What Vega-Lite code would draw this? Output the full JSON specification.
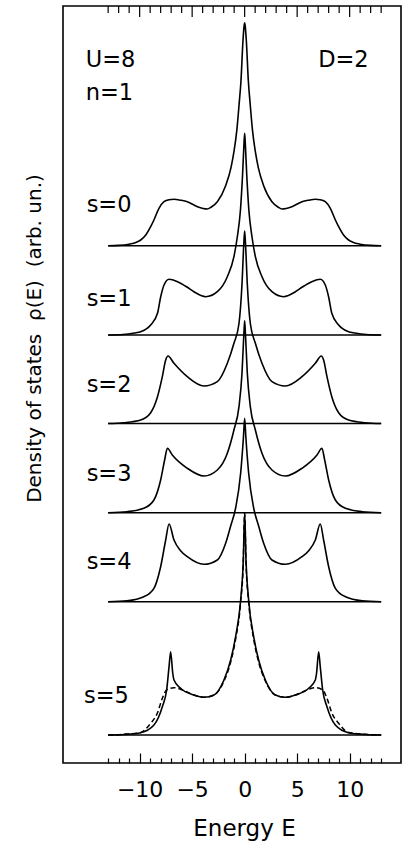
{
  "$schema": "https://vega.github.io/schema/vega-lite/v6.json",
  "width": 338,
  "height": 757,
  "autosize": {"type": "none"},
  "padding": {"left": 63, "top": 6, "right": 1, "bottom": 78},
  "background": "white",
  "config": {
    "view": {"stroke": "black", "strokeWidth": 1.6},
    "axis": {"grid": false, "domain": false, "labelFont": "DejaVu Sans", "titleFont": "DejaVu Sans", "labelColor": "black", "titleColor": "black", "tickColor": "black", "titleFontWeight": "normal"}
  },
  "resolve": {"axis": {"x": "independent"}},
  "datasets": {
    "base": [
      {"s": "s0", "E": -13, "E2": 13, "y": 517.3},
      {"s": "s1", "E": -13, "E2": 13, "y": 428},
      {"s": "s2", "E": -13, "E2": 13, "y": 339.5},
      {"s": "s3", "E": -13, "E2": 13, "y": 250.3},
      {"s": "s4", "E": -13, "E2": 13, "y": 161.3},
      {"s": "s5", "E": -13, "E2": 13, "y": 28}
    ],
    "topticks": [
      {"E": -13, "major": 0}, {"E": -12, "major": 0}, {"E": -11, "major": 0}, {"E": -10, "major": 1}, {"E": -9, "major": 0}, {"E": -8, "major": 0}, {"E": -7, "major": 0}, {"E": -6, "major": 0}, {"E": -5, "major": 1}, {"E": -4, "major": 0}, {"E": -3, "major": 0}, {"E": -2, "major": 0}, {"E": -1, "major": 0}, {"E": 0, "major": 1}, {"E": 1, "major": 0}, {"E": 2, "major": 0}, {"E": 3, "major": 0}, {"E": 4, "major": 0}, {"E": 5, "major": 1}, {"E": 6, "major": 0}, {"E": 7, "major": 0}, {"E": 8, "major": 0}, {"E": 9, "major": 0}, {"E": 10, "major": 1}, {"E": 11, "major": 0}, {"E": 12, "major": 0}, {"E": 13, "major": 0}
    ],
    "curves": [
      {"s":"s0","E":-13,"y":517.3},{"s":"s0","E":-12,"y":517.6},{"s":"s0","E":-11,"y":518.8},{"s":"s0","E":-10.3,"y":520.8},{"s":"s0","E":-9.9,"y":523},{"s":"s0","E":-9.4,"y":528.3},{"s":"s0","E":-8.95,"y":536.3},{"s":"s0","E":-8.64,"y":543},{"s":"s0","E":-8.16,"y":554.7},{"s":"s0","E":-7.68,"y":561.3},{"s":"s0","E":-7.2,"y":563.3},{"s":"s0","E":-6.73,"y":563.7},{"s":"s0","E":-6.1,"y":562.8},{"s":"s0","E":-5.46,"y":561.3},{"s":"s0","E":-4.5,"y":556.3},{"s":"s0","E":-3.55,"y":554},{"s":"s0","E":-3.2,"y":555.8},{"s":"s0","E":-2.6,"y":561.3},{"s":"s0","E":-1.81,"y":577.3},{"s":"s0","E":-1.3,"y":595.3},{"s":"s0","E":-1.02,"y":611.3},{"s":"s0","E":-0.75,"y":632.3},{"s":"s0","E":-0.54,"y":657.3},{"s":"s0","E":-0.35,"y":682.3},{"s":"s0","E":-0.16,"y":722.3},{"s":"s0","E":-0.05,"y":737.3},{"s":"s0","E":0,"y":740.3},
      {"s":"s0","E":0.05,"y":737.3},{"s":"s0","E":0.16,"y":722.3},{"s":"s0","E":0.35,"y":682.3},{"s":"s0","E":0.54,"y":657.3},{"s":"s0","E":0.75,"y":632.3},{"s":"s0","E":1.02,"y":611.3},{"s":"s0","E":1.3,"y":595.3},{"s":"s0","E":1.81,"y":577.3},{"s":"s0","E":2.6,"y":561.3},{"s":"s0","E":3.2,"y":555.8},{"s":"s0","E":3.55,"y":554},{"s":"s0","E":4.5,"y":556.3},{"s":"s0","E":5.46,"y":561.3},{"s":"s0","E":6.1,"y":562.8},{"s":"s0","E":6.73,"y":563.7},{"s":"s0","E":7.2,"y":563.3},{"s":"s0","E":7.68,"y":561.3},{"s":"s0","E":8.16,"y":554.7},{"s":"s0","E":8.64,"y":543},{"s":"s0","E":8.95,"y":536.3},{"s":"s0","E":9.4,"y":528.3},{"s":"s0","E":9.9,"y":523},{"s":"s0","E":10.3,"y":520.8},{"s":"s0","E":11,"y":518.8},{"s":"s0","E":12,"y":517.6},{"s":"s0","E":13,"y":517.3},

      {"s":"s1","E":-13,"y":428},{"s":"s1","E":-11.6,"y":428.5},{"s":"s1","E":-10.5,"y":430},{"s":"s1","E":-9.9,"y":431.3},{"s":"s1","E":-8.95,"y":438},{"s":"s1","E":-8.3,"y":449.7},{"s":"s1","E":-8.0,"y":466},{"s":"s1","E":-7.68,"y":478},{"s":"s1","E":-7.2,"y":483.7},{"s":"s1","E":-6.4,"y":481.3},{"s":"s1","E":-5.5,"y":476},{"s":"s1","E":-4.83,"y":471.3},{"s":"s1","E":-3.71,"y":466.3},{"s":"s1","E":-2.6,"y":471.3},{"s":"s1","E":-1.65,"y":486.3},{"s":"s1","E":-1.02,"y":506.3},{"s":"s1","E":-0.7,"y":526},{"s":"s1","E":-0.4,"y":553},{"s":"s1","E":-0.2,"y":588},{"s":"s1","E":-0.06,"y":620},{"s":"s1","E":0,"y":629.7},
      {"s":"s1","E":0.06,"y":620},{"s":"s1","E":0.2,"y":588},{"s":"s1","E":0.4,"y":553},{"s":"s1","E":0.7,"y":526},{"s":"s1","E":1.02,"y":506.3},{"s":"s1","E":1.65,"y":486.3},{"s":"s1","E":2.6,"y":471.3},{"s":"s1","E":3.71,"y":466.3},{"s":"s1","E":4.83,"y":471.3},{"s":"s1","E":5.5,"y":476},{"s":"s1","E":6.4,"y":481.3},{"s":"s1","E":7.2,"y":483.7},{"s":"s1","E":7.68,"y":478},{"s":"s1","E":8.0,"y":466},{"s":"s1","E":8.3,"y":449.7},{"s":"s1","E":8.95,"y":438},{"s":"s1","E":9.9,"y":431.3},{"s":"s1","E":10.5,"y":430},{"s":"s1","E":11.6,"y":428.5},{"s":"s1","E":13,"y":428},

      {"s":"s2","E":-13,"y":339.5},{"s":"s2","E":-11.5,"y":340.3},{"s":"s2","E":-9.9,"y":343},{"s":"s2","E":-8.95,"y":350.3},{"s":"s2","E":-8.3,"y":366.3},{"s":"s2","E":-7.84,"y":386.3},{"s":"s2","E":-7.52,"y":403},{"s":"s2","E":-7.3,"y":407},{"s":"s2","E":-6.73,"y":399.7},{"s":"s2","E":-5.46,"y":386.3},{"s":"s2","E":-3.87,"y":377},{"s":"s2","E":-2.6,"y":381.3},{"s":"s2","E":-1.65,"y":399.7},{"s":"s2","E":-1.02,"y":419.7},{"s":"s2","E":-0.54,"y":439.5},{"s":"s2","E":-0.25,"y":479.5},{"s":"s2","E":-0.08,"y":519.5},{"s":"s2","E":0,"y":532},
      {"s":"s2","E":0.08,"y":519.5},{"s":"s2","E":0.25,"y":479.5},{"s":"s2","E":0.54,"y":439.5},{"s":"s2","E":1.02,"y":419.7},{"s":"s2","E":1.65,"y":399.7},{"s":"s2","E":2.6,"y":381.3},{"s":"s2","E":3.87,"y":377},{"s":"s2","E":5.46,"y":386.3},{"s":"s2","E":6.73,"y":399.7},{"s":"s2","E":7.3,"y":407},{"s":"s2","E":7.52,"y":403},{"s":"s2","E":7.84,"y":386.3},{"s":"s2","E":8.3,"y":366.3},{"s":"s2","E":8.95,"y":350.3},{"s":"s2","E":9.9,"y":343},{"s":"s2","E":11.5,"y":340.3},{"s":"s2","E":13,"y":339.5},

      {"s":"s3","E":-13,"y":250.3},{"s":"s3","E":-11.2,"y":251.3},{"s":"s3","E":-9.6,"y":254.7},{"s":"s3","E":-8.64,"y":263},{"s":"s3","E":-8.0,"y":283},{"s":"s3","E":-7.62,"y":303},{"s":"s3","E":-7.36,"y":314.7},{"s":"s3","E":-6.89,"y":308},{"s":"s3","E":-5.46,"y":294.7},{"s":"s3","E":-3.87,"y":287},{"s":"s3","E":-2.6,"y":293},{"s":"s3","E":-1.65,"y":309.7},{"s":"s3","E":-1.02,"y":333},{"s":"s3","E":-0.54,"y":356.3},{"s":"s3","E":-0.25,"y":390.3},{"s":"s3","E":-0.08,"y":428.3},{"s":"s3","E":0,"y":442.3},
      {"s":"s3","E":0.08,"y":428.3},{"s":"s3","E":0.25,"y":390.3},{"s":"s3","E":0.54,"y":356.3},{"s":"s3","E":1.02,"y":333},{"s":"s3","E":1.65,"y":309.7},{"s":"s3","E":2.6,"y":293},{"s":"s3","E":3.87,"y":287},{"s":"s3","E":5.46,"y":294.7},{"s":"s3","E":6.89,"y":308},{"s":"s3","E":7.36,"y":314.7},{"s":"s3","E":7.62,"y":303},{"s":"s3","E":8.0,"y":283},{"s":"s3","E":8.64,"y":263},{"s":"s3","E":9.6,"y":254.7},{"s":"s3","E":11.2,"y":251.3},{"s":"s3","E":13,"y":250.3},

      {"s":"s4","E":-13,"y":161.3},{"s":"s4","E":-11.2,"y":162.3},{"s":"s4","E":-9.6,"y":166.3},{"s":"s4","E":-8.64,"y":174.7},{"s":"s4","E":-8.0,"y":196.3},{"s":"s4","E":-7.52,"y":223},{"s":"s4","E":-7.2,"y":239},{"s":"s4","E":-6.73,"y":223},{"s":"s4","E":-6.1,"y":212.3},{"s":"s4","E":-5.46,"y":206.3},{"s":"s4","E":-3.87,"y":198.7},{"s":"s4","E":-2.6,"y":203},{"s":"s4","E":-1.81,"y":219.7},{"s":"s4","E":-1.33,"y":237},{"s":"s4","E":-0.86,"y":255},{"s":"s4","E":-0.38,"y":290},{"s":"s4","E":-0.12,"y":325},{"s":"s4","E":0,"y":344.7},
      {"s":"s4","E":0.12,"y":325},{"s":"s4","E":0.38,"y":290},{"s":"s4","E":0.86,"y":255},{"s":"s4","E":1.33,"y":237},{"s":"s4","E":1.81,"y":219.7},{"s":"s4","E":2.6,"y":203},{"s":"s4","E":3.87,"y":198.7},{"s":"s4","E":5.46,"y":206.3},{"s":"s4","E":6.1,"y":212.3},{"s":"s4","E":6.73,"y":223},{"s":"s4","E":7.2,"y":239},{"s":"s4","E":7.52,"y":223},{"s":"s4","E":8.0,"y":196.3},{"s":"s4","E":8.64,"y":174.7},{"s":"s4","E":9.6,"y":166.3},{"s":"s4","E":11.2,"y":162.3},{"s":"s4","E":13,"y":161.3},

      {"s":"s5","E":-13,"y":28},{"s":"s5","E":-11.5,"y":28.5},{"s":"s5","E":-9.9,"y":30.3},{"s":"s5","E":-8.64,"y":38},{"s":"s5","E":-7.84,"y":56.3},{"s":"s5","E":-7.43,"y":73},{"s":"s5","E":-7.2,"y":96.3},{"s":"s5","E":-7.05,"y":111.3},{"s":"s5","E":-6.85,"y":90},{"s":"s5","E":-6.73,"y":83},{"s":"s5","E":-6.1,"y":74.7},{"s":"s5","E":-4.83,"y":68},{"s":"s5","E":-3.87,"y":65.7},{"s":"s5","E":-2.92,"y":68},{"s":"s5","E":-1.97,"y":83},{"s":"s5","E":-1.33,"y":103},{"s":"s5","E":-0.86,"y":126.3},{"s":"s5","E":-0.38,"y":163},{"s":"s5","E":-0.13,"y":203},{"s":"s5","E":0,"y":250},
      {"s":"s5","E":0.13,"y":203},{"s":"s5","E":0.38,"y":163},{"s":"s5","E":0.86,"y":126.3},{"s":"s5","E":1.33,"y":103},{"s":"s5","E":1.97,"y":83},{"s":"s5","E":2.92,"y":68},{"s":"s5","E":3.87,"y":65.7},{"s":"s5","E":4.83,"y":68},{"s":"s5","E":6.1,"y":74.7},{"s":"s5","E":6.73,"y":83},{"s":"s5","E":6.85,"y":90},{"s":"s5","E":7.05,"y":111.3},{"s":"s5","E":7.2,"y":96.3},{"s":"s5","E":7.43,"y":73},{"s":"s5","E":7.84,"y":56.3},{"s":"s5","E":8.64,"y":38},{"s":"s5","E":9.9,"y":30.3},{"s":"s5","E":11.5,"y":28.5},{"s":"s5","E":13,"y":28}
    ],
    "dashed": [
      {"s":"s5d","E":-13,"y":28},{"s":"s5d","E":-11.5,"y":28.7},{"s":"s5d","E":-9.9,"y":30.5},{"s":"s5d","E":-8.95,"y":39.7},{"s":"s5d","E":-8.32,"y":49.7},{"s":"s5d","E":-7.84,"y":64.7},{"s":"s5d","E":-7.43,"y":73},{"s":"s5d","E":-6.73,"y":75.3},{"s":"s5d","E":-6.1,"y":73.7},{"s":"s5d","E":-4.83,"y":68},{"s":"s5d","E":-3.87,"y":65.7},{"s":"s5d","E":-2.92,"y":68},{"s":"s5d","E":-1.97,"y":82},{"s":"s5d","E":-1.33,"y":101},{"s":"s5d","E":-0.86,"y":124},{"s":"s5d","E":-0.38,"y":161},{"s":"s5d","E":-0.13,"y":200},{"s":"s5d","E":0,"y":249.7},
      {"s":"s5d","E":0.13,"y":200},{"s":"s5d","E":0.38,"y":161},{"s":"s5d","E":0.86,"y":124},{"s":"s5d","E":1.33,"y":101},{"s":"s5d","E":1.97,"y":82},{"s":"s5d","E":2.92,"y":68},{"s":"s5d","E":3.87,"y":65.7},{"s":"s5d","E":4.83,"y":68},{"s":"s5d","E":6.1,"y":73.7},{"s":"s5d","E":6.73,"y":75.3},{"s":"s5d","E":7.43,"y":73},{"s":"s5d","E":7.84,"y":64.7},{"s":"s5d","E":8.32,"y":49.7},{"s":"s5d","E":8.95,"y":39.7},{"s":"s5d","E":9.9,"y":30.5},{"s":"s5d","E":11.5,"y":28.7},{"s":"s5d","E":13,"y":28}
    ],
    "labels": [
      {"t": "U=8", "E": -15.14, "y": 696},
      {"t": "n=1", "E": -15.14, "y": 663},
      {"t": "D=2", "E": 7.0, "y": 696},
      {"t": "s=0", "E": -15.05, "y": 551},
      {"t": "s=1", "E": -15.05, "y": 457},
      {"t": "s=2", "E": -15.05, "y": 371.3},
      {"t": "s=3", "E": -15.05, "y": 282},
      {"t": "s=4", "E": -15.05, "y": 194},
      {"t": "s=5", "E": -15.3, "y": 60}
    ]
  },
  "layer": [
    {
      "data": {"name": "base"},
      "mark": {"type": "rule", "color": "black", "strokeWidth": 1.5},
      "encoding": {
        "x": {"field": "E", "type": "quantitative", "scale": {"domain": [-17.3, 14.89], "nice": false, "zero": false},
              "axis": {"orient": "bottom", "values": [-13,-12,-11,-10,-9,-8,-7,-6,-5,-4,-3,-2,-1,0,1,2,3,4,5,6,7,8,9,10,11,12,13], "labels": true, "labelExpr": "''", "title": null, "tickWidth": 1.2,
                       "tickSize": {"condition": {"test": "datum.value % 5 === 0", "value": -10}, "value": -5}}},
        "x2": {"field": "E2"},
        "y": {"field": "y", "type": "quantitative", "scale": {"domain": [0, 757], "nice": false, "zero": false},
              "axis": {"ticks": false, "labels": false, "domain": false, "title": "Density of states\u00a0\u00a0ρ(E)\u00a0\u00a0(arb. un.)", "titleFontSize": 20, "titleAngle": 270, "titleX": -29, "titleY": 332, "titleAlign": "center", "titleBaseline": "middle"}}
      }
    },
    {
      "data": {"name": "topticks"},
      "transform": [{"filter": "datum.major == 0"}],
      "mark": {"type": "rule", "color": "black", "strokeWidth": 1.2},
      "encoding": {
        "x": {"field": "E", "type": "quantitative", "axis": null},
        "y": {"datum": 757, "type": "quantitative"},
        "y2": {"datum": 750}
      }
    },
    {
      "data": {"name": "topticks"},
      "transform": [{"filter": "datum.major == 1"}],
      "mark": {"type": "rule", "color": "black", "strokeWidth": 1.2},
      "encoding": {
        "x": {"field": "E", "type": "quantitative", "axis": null},
        "y": {"datum": 757, "type": "quantitative"},
        "y2": {"datum": 746}
      }
    },
    {
      "data": {"name": "curves"},
      "mark": {"type": "line", "color": "black", "strokeWidth": 1.6, "interpolate": "monotone"},
      "encoding": {
        "x": {"field": "E", "type": "quantitative", "axis": null},
        "y": {"field": "y", "type": "quantitative",
              "axis": {"ticks": false, "labels": false, "domain": false, "title": "Density of states\u00a0\u00a0ρ(E)\u00a0\u00a0(arb. un.)", "titleFontSize": 20, "titleAngle": 270, "titleX": -29, "titleY": 332, "titleAlign": "center", "titleBaseline": "middle"}},
        "detail": {"field": "s", "type": "nominal"}
      }
    },
    {
      "data": {"name": "dashed"},
      "mark": {"type": "line", "color": "black", "strokeWidth": 1.5, "strokeDash": [5, 3], "interpolate": "monotone"},
      "encoding": {
        "x": {"field": "E", "type": "quantitative", "axis": null},
        "y": {"field": "y", "type": "quantitative",
              "axis": {"ticks": false, "labels": false, "domain": false, "title": "Density of states\u00a0\u00a0ρ(E)\u00a0\u00a0(arb. un.)", "titleFontSize": 20, "titleAngle": 270, "titleX": -29, "titleY": 332, "titleAlign": "center", "titleBaseline": "middle"}}
      }
    },
    {
      "data": {"name": "labels"},
      "mark": {"type": "text", "font": "DejaVu Sans", "fontSize": 22.5, "align": "left", "baseline": "alphabetic", "color": "black"},
      "encoding": {
        "x": {"field": "E", "type": "quantitative",
              "axis": {"orient": "bottom", "values": [-10, -5, 0, 5, 10], "ticks": false, "tickSize": 0, "labels": true, "labelFontSize": 22, "labelPadding": 16,
                       "title": "Energy E", "titleFontSize": 23, "titleX": 181, "titleY": 72, "titleAlign": "center", "titleBaseline": "alphabetic", "titleAnchor": null}},
        "y": {"field": "y", "type": "quantitative",
              "axis": {"ticks": false, "labels": false, "domain": false, "title": "Density of states\u00a0\u00a0ρ(E)\u00a0\u00a0(arb. un.)", "titleFontSize": 20, "titleAngle": 270, "titleX": -29, "titleY": 332, "titleAlign": "center", "titleBaseline": "middle"}},
        "text": {"field": "t", "type": "nominal"}
      }
    }
  ]
}
